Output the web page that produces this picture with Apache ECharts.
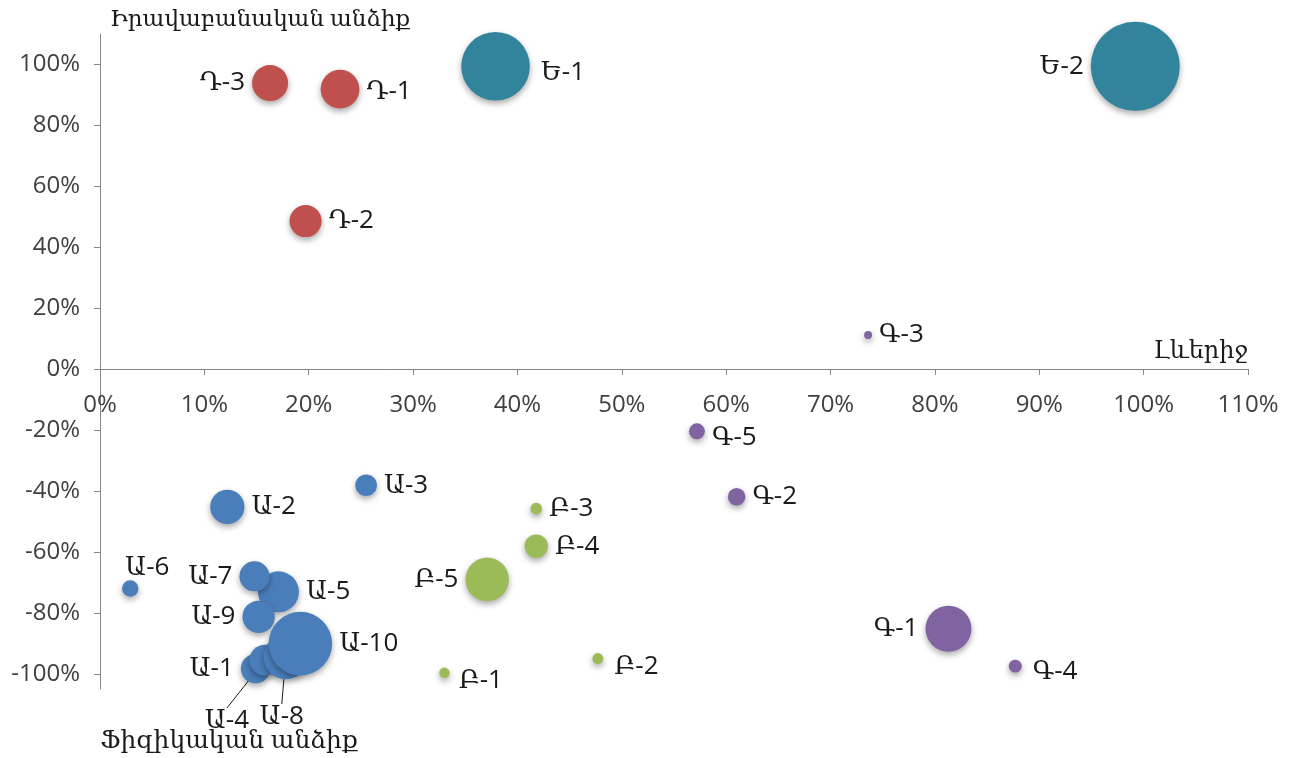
<!DOCTYPE html>
<html>
<head>
<meta charset="utf-8">
<script src="https://cdn.jsdelivr.net/npm/echarts@6/dist/echarts.min.js"></script>
<style>
  html, body { margin: 0; padding: 0; background: #ffffff; }
  #chart { width: 1294px; height: 758px; }
</style>
</head>
<body>
<div id="chart"></div>
<script>
// Leverage (x, %) vs. position (y, %), bubble size = relative volume
const namesA = ['Ա-1', 'Ա-2', 'Ա-3', 'Ա-4', 'Ա-5', 'Ա-6', 'Ա-7', 'Ա-8', 'Ա-9', 'Ա-10'];
const xA = [14.9, 12.2, 25.5, 15.8, 17.1, 2.9, 14.8, 17.8, 15.2, 19.2];
const yA = [-98.3, -45.2, -38.1, -95.5, -73.1, -72.0, -68.0, -94.5, -81.3, -90.1];
const sizeA = [10.9, 14.9, 5.9, 12, 21.2, 3.4, 11.4, 25, 13.2, 51];

const namesB = ['Բ-1', 'Բ-2', 'Բ-3', 'Բ-4', 'Բ-5'];
const xB = [33.0, 47.7, 41.8, 41.8, 37.1];
const yB = [-99.7, -95.0, -45.8, -58.1, -69.0];
const sizeB = [1.4, 1.5, 1.7, 6.9, 23.8];

const namesG = ['Գ-1', 'Գ-2', 'Գ-3', 'Գ-4', 'Գ-5'];
const xG = [81.3, 61.0, 73.6, 87.7, 57.2];
const yG = [-85.2, -41.9, 11.2, -97.5, -20.4];
const sizeG = [26.7, 3.9, 0.8, 2.1, 3.2];

const namesD = ['Դ-1', 'Դ-2', 'Դ-3'];
const xD = [23.0, 19.7, 16.3];
const yD = [91.9, 48.6, 93.9];
const sizeD = [19, 13, 16.4];

const namesE = ['Ե-1', 'Ե-2'];
const xE = [37.9, 99.2];
const yE = [99.4, 99.4];
const sizeE = [59.4, 100];

const xTicks = [0, 10, 20, 30, 40, 50, 60, 70, 80, 90, 100, 110];
const yTicks = [-100, -80, -60, -40, -20, 0, 20, 40, 60, 80, 100];

const titleY = 'Իրավաբանական անձիք';
const titleYNeg = 'Ֆիզիկական անձիք';
const titleX = 'Լևերիջ';

// label side for each bubble (default: right)
const labelSide = {
  'Ա-1': 'left', 'Ա-6': 'top', 'Ա-7': 'left', 'Ա-9': 'left',
  'Բ-5': 'left', 'Գ-1': 'left', 'Դ-3': 'left', 'Ե-2': 'left'
};
// small nudges of individual labels, in px
const labelNudge = {
  'Ա-6': [17, 7], 'Բ-1': [2, 8], 'Բ-2': [4, 8], 'Գ-5': [0, 6], 'Գ-4': [4, 5],
  'Ե-1': [4, 6], 'Դ-1': [0, 2]
};
// labels pulled below the cluster with a leader line
const leaderShift = { 'Ա-4': [-38, 61], 'Ա-8': [-4, 60] };

const FONT = "'Open Sans', 'DejaVu Serif', sans-serif";
const SIZE_K = 8.9;
const TEXT = '#1a1a1a';

function buildData(names, xs, ys, sizes) {
  return names.map((n, i) => {
    const item = { name: n, value: [xs[i], ys[i], sizes[i]] };
    if (leaderShift[n]) {
      item.label = { position: 'inside' };
      item.labelLine = { show: true, lineStyle: { color: TEXT, width: 1 } };
    } else {
      item.label = { position: labelSide[n] || 'right' };
    }
    return item;
  });
}

function bubbleSeries(names, xs, ys, sizes, color) {
  return {
    type: 'scatter',
    data: buildData(names, xs, ys, sizes),
    symbolSize: v => Math.sqrt(v[2]) * SIZE_K,
    itemStyle: {
      color: color,
      opacity: 1,
      shadowBlur: 6,
      shadowOffsetY: 3,
      shadowColor: 'rgba(0,0,0,0.35)'
    },
    label: {
      show: true,
      formatter: p => p.name,
      fontFamily: FONT,
      fontSize: 26,
      color: TEXT,
      distance: 7
    },
    labelLayout: p => {
      const s = leaderShift[p.text] || labelNudge[p.text];
      return s ? { dx: s[0], dy: s[1] } : {};
    },
    emphasis: { disabled: true }
  };
}

const chart = echarts.init(document.getElementById('chart'));
chart.setOption({
  animation: false,
  backgroundColor: '#ffffff',
  grid: { left: 100, right: 46, top: 34, bottom: 69 },
  xAxis: {
    type: 'value',
    min: 0, max: 110, interval: 10,
    // the horizontal axis sits on y = 0
    offset: -320,
    axisLine: { onZero: false, lineStyle: { color: '#868686', width: 1 } },
    axisTick: { show: true, length: 6, lineStyle: { color: '#868686' } },
    axisLabel: {
      formatter: v => v + '%',
      fontFamily: FONT, fontSize: 24, color: '#404040', margin: 24
    },
    splitLine: { show: false }
  },
  yAxis: {
    type: 'value',
    min: -105, max: 110,
    axisLine: { show: true, lineStyle: { color: '#868686', width: 1 } },
    axisTick: { show: true, length: 6, customValues: yTicks, lineStyle: { color: '#868686' } },
    axisLabel: {
      customValues: yTicks,
      formatter: v => v + '%',
      fontFamily: FONT, fontSize: 24, color: '#404040', margin: 20
    },
    splitLine: { show: false }
  },
  graphic: [
    { type: 'text', left: 110, top: 8, style: { text: titleY, font: "23px " + FONT, fill: TEXT } },
    { type: 'text', left: 100, top: 728, style: { text: titleYNeg, font: "25px " + FONT, fill: TEXT } },
    { type: 'text', right: 46, top: 339, style: { text: titleX, font: "24px " + FONT, fill: TEXT } }
  ],
  series: [
    bubbleSeries(namesA, xA, yA, sizeA, '#4a7ebb'),
    bubbleSeries(namesB, xB, yB, sizeB, '#9bbb59'),
    bubbleSeries(namesG, xG, yG, sizeG, '#8064a2'),
    bubbleSeries(namesD, xD, yD, sizeD, '#c0504d'),
    bubbleSeries(namesE, xE, yE, sizeE, '#31849b')
  ]
});
</script>
</body>
</html>
